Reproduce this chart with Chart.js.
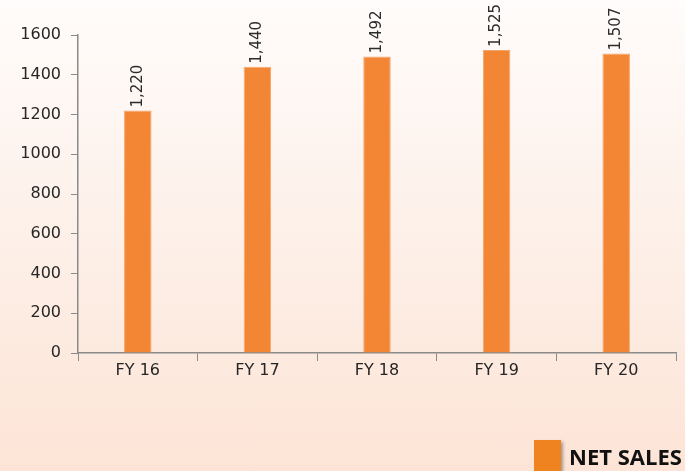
<!DOCTYPE html>
<html>
<head>
<meta charset="utf-8">
<script src="https://cdn.jsdelivr.net/npm/chart.js@4"></script>
<style>
  html, body { margin: 0; padding: 0; }
  #wrap {
    position: relative;
    width: 685px;
    height: 471px;
    overflow: hidden;
    background: linear-gradient(to bottom, #fffcfb 0%, #fdf1ea 45%, #fde4d6 100%);
  }
  #legend {
    position: absolute;
    left: 534px;
    top: 440px;
    display: flex;
    align-items: center;
    font-family: "Open Sans", sans-serif;
    font-weight: bold;
    font-size: 22px;
    color: #111;
    white-space: nowrap;
  }
  #legend .box {
    width: 27px;
    height: 31px;
    background: #ef8320;
    box-shadow: 2px 2px 3px rgba(0,0,0,0.35);
    margin-right: 8px;
  }
</style>
</head>
<body>
<div id="wrap">
  <canvas id="c" width="685" height="471"></canvas>
  <div id="legend"><div class="box"></div><span id="legendText"></span></div>
</div>
<script>
const categories = ["FY 16", "FY 17", "FY 18", "FY 19", "FY 20"];
const netSales = [1220, 1440, 1492, 1525, 1507];
const seriesName = "NET SALES";
const yTicks = [0, 200, 400, 600, 800, 1000, 1200, 1400, 1600];

document.getElementById("legendText").textContent = seriesName;

// value labels turned on their side, just above each bar
const barLabels = {
    id: "barLabels",
    afterDatasetsDraw(chart) {
        const ctx = chart.ctx;
        const meta = chart.getDatasetMeta(0);
        ctx.save();
        ctx.font = "15px 'DejaVu Sans'";
        ctx.fillStyle = "#2b2b2b";
        ctx.textAlign = "left";
        ctx.textBaseline = "middle";
        meta.data.forEach((bar, i) => {
            const v = chart.data.datasets[0].data[i];
            ctx.save();
            ctx.translate(bar.x, bar.y - 3);
            ctx.rotate(-Math.PI / 2);
            ctx.fillText(v.toLocaleString("en-US"), 0, 0);
            ctx.restore();
        });
        ctx.restore();
    }
};

new Chart(document.getElementById("c"), {
    type: "bar",
    data: {
        labels: categories,
        datasets: [{
            label: seriesName,
            data: netSales,
            backgroundColor: "#f28634",
            borderColor: "#f6a569",
            borderWidth: 1,
            categoryPercentage: 1,
            barPercentage: 0.23
        }]
    },
    options: {
        responsive: false,
        animation: false,
        layout: { padding: { left: 0, top: 35, right: 9, bottom: 78 } },
        plugins: {
            legend: { display: false },
            tooltip: { enabled: false }
        },
        scales: {
            x: {
                grid: {
                    drawOnChartArea: false,
                    drawTicks: true,
                    tickLength: 8,
                    color: "#8a8a8a",
                    offset: true
                },
                border: { color: "#8a8a8a", width: 1.5 },
                ticks: {
                    color: "#262626",
                    font: { family: "DejaVu Sans", size: 16 },
                    padding: 0
                },
                afterFit(scale) { scale.height = 40; }
            },
            y: {
                min: 0,
                max: 1600,
                afterBuildTicks(scale) { scale.ticks = yTicks.map(v => ({ value: v })); },
                grid: {
                    drawOnChartArea: false,
                    drawTicks: true,
                    tickLength: 7,
                    color: "#8a8a8a"
                },
                border: { color: "#8a8a8a", width: 1.5 },
                ticks: {
                    color: "#262626",
                    font: { family: "DejaVu Sans", size: 16 },
                    padding: 10,
                    callback: v => String(v)
                },
                afterFit(scale) { scale.width = 78; }
            }
        }
    },
    plugins: [barLabels]
});
</script>
</body>
</html>
